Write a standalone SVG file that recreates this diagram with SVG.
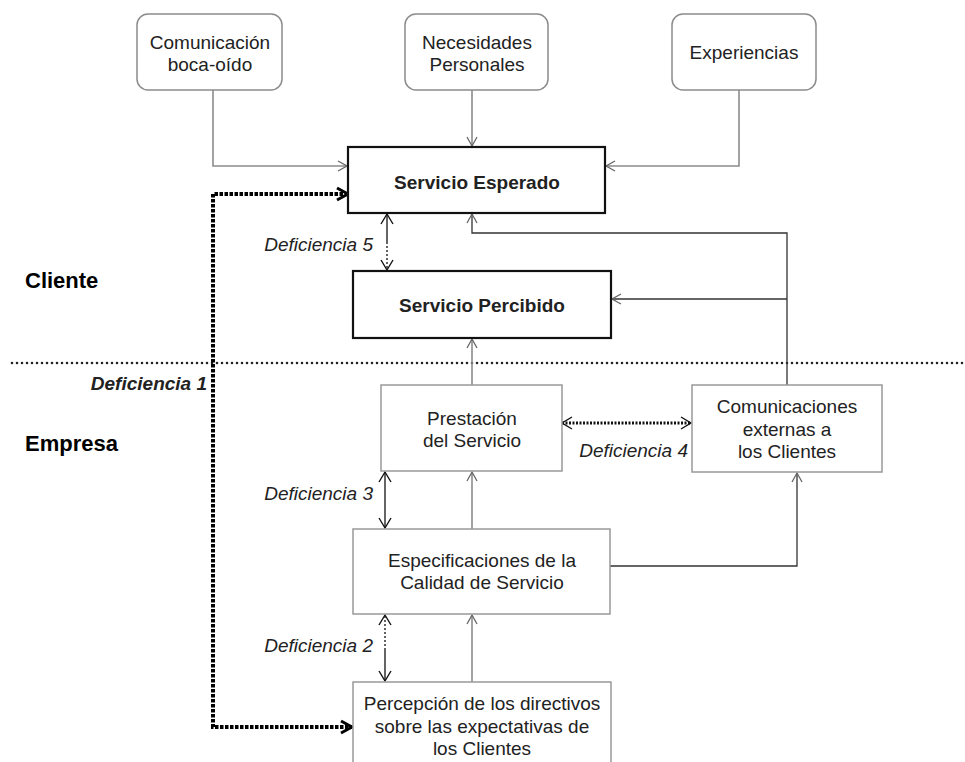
<svg xmlns="http://www.w3.org/2000/svg" width="965" height="762" viewBox="0 0 965 762">
<style>
text{font-family:"Liberation Sans",Arial,sans-serif;fill:#222;font-size:19px}
.c{text-anchor:middle}
.b{font-weight:bold}
.it{font-style:italic;text-anchor:end}
.big{font-size:22px;font-weight:bold;fill:#000}
.rbox{fill:#fff;stroke:#8c8c8c;stroke-width:1.5}
.gbox{fill:#fff;stroke:#999;stroke-width:1.5}
.kbox{fill:#fff;stroke:#111;stroke-width:2.2}
.gl{fill:none;stroke:#8c8c8c;stroke-width:1.6}
.dl{fill:none;stroke:#333;stroke-width:1.3}
.bl{fill:none;stroke:#111;stroke-width:1.3}
.thick{fill:none;stroke:#000;stroke-width:4;stroke-dasharray:3.5 1.5}
</style>
<defs>
<marker id="ag" markerWidth="12" markerHeight="12" refX="10" refY="6" orient="auto-start-reverse" markerUnits="userSpaceOnUse"><path d="M1 1 L10 6 L1 11" fill="none" stroke="#666" stroke-width="1.3"/></marker>
<marker id="ak" markerWidth="14" markerHeight="14" refX="12" refY="7" orient="auto-start-reverse" markerUnits="userSpaceOnUse"><path d="M2 1 L12 7 L2 13" fill="none" stroke="#111" stroke-width="1.4"/></marker>
<marker id="at" markerWidth="16" markerHeight="16" refX="13" refY="8" orient="auto-start-reverse" markerUnits="userSpaceOnUse"><path d="M2 2 L13 8 L2 14" fill="none" stroke="#000" stroke-width="3"/></marker>
</defs>
<line x1="12" y1="363" x2="965" y2="363" stroke="#222" stroke-width="2.6" stroke-dasharray="0 5" stroke-linecap="round"/>
<text class="big" x="25" y="288">Cliente</text>
<text class="big" x="25" y="451">Empresa</text>
<g id="connectors">
<path class="gl" d="M213 90 V166 H347" marker-end="url(#ag)"/>
<path class="gl" d="M472 90 V146" marker-end="url(#ag)"/>
<path class="gl" d="M739 90 V166 H606" marker-end="url(#ag)"/>
<path class="dl" d="M787 385 V233 H472 V214" marker-end="url(#ag)"/>
<path class="dl" d="M787 299 H612" marker-end="url(#ag)"/>
<path class="gl" d="M472 385 V339" marker-end="url(#ag)"/>
<path class="gl" d="M472 529 V472" marker-end="url(#ag)"/>
<path class="dl" d="M610 566 H797 V473" marker-end="url(#ag)"/>
<path class="gl" d="M472 682 V615" marker-end="url(#ag)"/>
<path class="bl" d="M387 242 V214" marker-end="url(#ak)"/>
<path class="bl" d="M387 242 V270" stroke-dasharray="2 2" marker-end="url(#ak)"/>
<path class="bl" d="M385 472 V528" marker-start="url(#ak)" marker-end="url(#ak)"/>
<path class="bl" d="M385 650 V615" stroke-dasharray="2 2" marker-end="url(#ak)"/>
<path class="bl" d="M385 650 V681" marker-end="url(#ak)"/>
<path d="M562 423 H691" fill="none" stroke="#111" stroke-width="3" stroke-dasharray="2 1.5" marker-start="url(#ak)" marker-end="url(#ak)"/>
<path class="thick" d="M348 194 H213 V727 H352" marker-start="url(#at)" marker-end="url(#at)"/>
</g>
<g id="comunicacion"><rect class="rbox" x="137" y="14" width="145" height="76" rx="11"/><text class="c" x="210" y="49">Comunicación</text><text class="c" x="210" y="71">boca-oído</text></g>
<g id="necesidades"><rect class="rbox" x="405" y="14" width="143" height="76" rx="11"/><text class="c" x="477" y="49">Necesidades</text><text class="c" x="477" y="71">Personales</text></g>
<g id="experiencias"><rect class="rbox" x="672" y="14" width="144" height="76" rx="11"/><text class="c" x="744" y="59">Experiencias</text></g>
<g id="esperado"><rect class="kbox" x="348" y="147" width="257" height="66"/><text class="c b" x="477" y="189">Servicio Esperado</text></g>
<g id="percibido"><rect class="kbox" x="353" y="271" width="258" height="67"/><text class="c b" x="482" y="312">Servicio Percibido</text></g>
<g id="prestacion"><rect class="gbox" x="381" y="385" width="181" height="86"/><text class="c" x="472" y="425">Prestación</text><text class="c" x="472" y="447">del Servicio</text></g>
<g id="comext"><rect class="gbox" x="692" y="385" width="190" height="87"/><text class="c" x="787" y="413">Comunicaciones</text><text class="c" x="787" y="436">externas a</text><text class="c" x="787" y="458">los Clientes</text></g>
<g id="especificaciones"><rect class="gbox" x="353" y="529" width="257" height="85"/><text class="c" x="482" y="567">Especificaciones de la</text><text class="c" x="482" y="589">Calidad de Servicio</text></g>
<g id="percepcion"><rect class="gbox" x="353" y="682" width="258" height="90"/><text class="c" x="482" y="710">Percepción de los directivos</text><text class="c" x="482" y="733">sobre las expectativas de</text><text class="c" x="482" y="755">los Clientes</text></g>
<g id="labels">
<text class="it b" x="207" y="390">Deficiencia 1</text>
<text class="it" x="373" y="251">Deficiencia 5</text>
<text class="it" x="373" y="500">Deficiencia 3</text>
<text class="it" x="373" y="652">Deficiencia 2</text>
<text class="it" x="688" y="457">Deficiencia 4</text>
</g>
</svg>
